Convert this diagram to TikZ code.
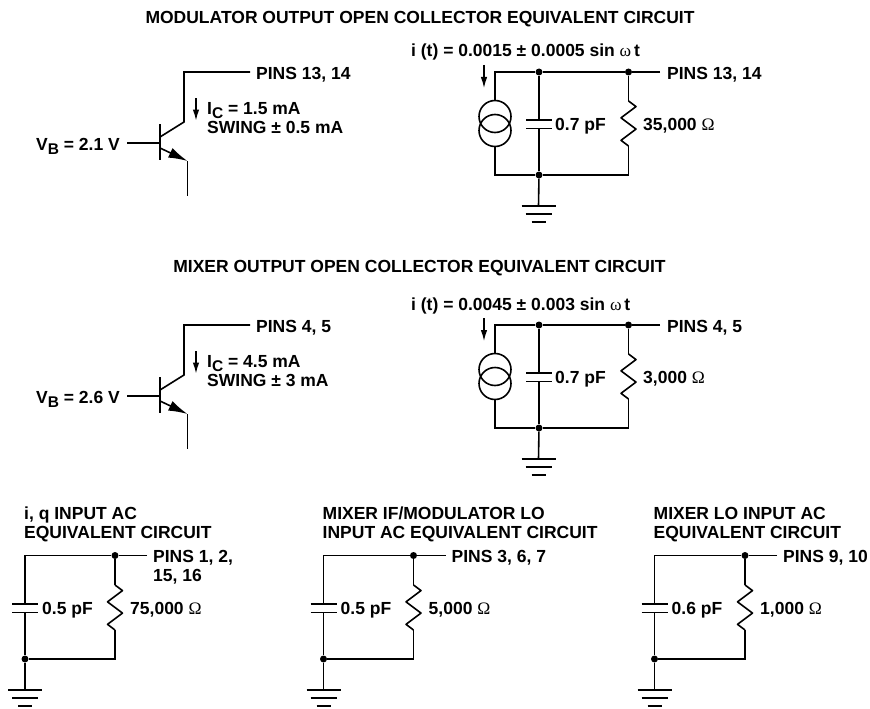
\documentclass[tikz,border=0pt]{standalone}
\usepackage{fontspec}
\setmainfont{Liberation Sans}
\newfontfamily\symfont{Liberation Serif}
\usetikzlibrary{arrows.meta}
\newcommand{\subl}[1]{\raisebox{-4.5pt}{\fontsize{15.5}{15.5}\selectfont #1}}
\newcommand{\ohm}{\ {\mdseries\symfont Ω}}
\newcommand{\omg}{{\mdseries\symfont ω}}
\tikzset{
  wire/.style={line width=1.6pt,line cap=butt,line join=miter},
  lbl/.style={anchor=base west,inner sep=0pt,font=\fontsize{17.5}{19}\bfseries\selectfont,align=left,text=black},
  blk/.style={lbl,anchor=north west},
  ttl/.style={lbl,anchor=base},
  dotn/.style={circle,fill=black,inner sep=0pt,minimum size=7pt},
  tiny arrow/.style={line width=1.2pt,-{Latex[length=11pt,width=6.5pt]}},
  emit arrow/.style={line width=1.6pt,-{Latex[length=19pt,width=10.5pt]}}
}
\newcommand{\resist}[3]{% prefix, x, ytop of zigzag
  \coordinate (#1rt) at (#2,#3);
  \coordinate (#1rb) at (#2,#3+45);
  \draw[wire,line join=round] (#1rt) -- ++(7.5,5.6) -- ++(-15,11.25) -- ++(15,11.25) -- ++(-15,11.25) -- (#1rb);
}
\newcommand{\capac}[3]{% prefix, x, y centre
  \coordinate (#1ct) at (#2,#3-4.3);
  \coordinate (#1cb) at (#2,#3+4.3);
  \draw[wire] ([xshift=-13pt]#1ct) -- ([xshift=13pt]#1ct);
  \draw[wire] ([xshift=-13pt]#1cb) -- ([xshift=13pt]#1cb);
}
\newcommand{\gnd}[3]{% prefix, x, y of first plate
  \coordinate (#1g) at (#2,#3);
  \draw[wire] (#2-17,#3) -- (#2+17,#3);
  \draw[wire] (#2-13,#3+8) -- (#2+13,#3+8);
  \draw[wire] (#2-7,#3+16) -- (#2+7,#3+16);
}
\newcommand{\transistor}[6]{% prefix, dy, pins, Ic, swing, Vb value
  \begin{scope}[yshift=-#2pt]
    \coordinate (#1c) at (184,72);
    \coordinate (#1out) at (250,72);
    \coordinate (#1k) at (184,122);
    \coordinate (#1bc) at (160,137);
    \coordinate (#1bt) at (160,124);
    \coordinate (#1bb) at (160,159.5);
    \coordinate (#1bl) at (127,143);
    \coordinate (#1bm) at (160,143);
    \coordinate (#1be) at (160,148);
    \coordinate (#1e) at (187.5,161);
    \coordinate (#1ee) at (187.5,195.5);
    \coordinate (#1as) at (196,98);
    \coordinate (#1ae) at (196,120.5);
    \draw[wire] (#1out) -- (#1c) -- (#1k) -- (#1bc);
    \draw[wire] (#1bt) -- (#1bb);
    \draw[wire] (#1bl) -- (#1bm);
    \draw[emit arrow] (#1be) -- (#1e);
    \draw[wire] (#1e) -- (#1ee);
    \draw[tiny arrow] (#1as) -- (#1ae);
    \node[lbl] (#1pins) at (256,79) {#3};
    \node[lbl] (#1ic) at (207,114) {I\subl{C} = #4};
    \node[lbl] (#1sw) at (207,133) {SWING ± #5};
    \node[lbl] (#1vb) at (36,150) {V\subl{B} = #6};
  \end{scope}
}
\newcommand{\outcirc}[5]{% prefix, dy, i(t), pins, R
  \begin{scope}[yshift=-#2pt]
    \coordinate (#1tl) at (495,72);
    \node[dotn] (#1d1) at (539,72) {};
    \node[dotn] (#1d2) at (628.5,72) {};
    \coordinate (#1out) at (660,72);
    \coordinate (#1bl) at (495,175);
    \node[dotn] (#1d3) at (539,175) {};
    \coordinate (#1br) at (628.5,175);
    \node[circle,draw,wire,minimum size=32pt,inner sep=0pt] (#1s1) at (495,116.5) {};
    \node[circle,draw,wire,minimum size=32pt,inner sep=0pt] (#1s2) at (495,130.5) {};
    \capac{#1}{539}{124}
    \resist{#1}{628.5}{101}
    \gnd{#1}{538.5}{206}
    \draw[wire] (#1out) -- (#1d2) -- (#1d1) -- (#1tl) -- (#1s1.north);
    \draw[wire] (#1s2.south) -- (#1bl) -- (#1d3) -- (#1br) -- (#1rb);
    \draw[wire] (#1d1) -- (#1ct);
    \draw[wire] (#1cb) -- (#1d3);
    \draw[wire] (#1d2) -- (#1rt);
    \draw[wire] (#1d3) -- (#1g);
    \coordinate (#1as) at (484,65);
    \coordinate (#1ae) at (484,88);
    \draw[tiny arrow] (#1as) -- (#1ae);
    \node[lbl] (#1it) at (411,57) {#3};
    \node[lbl] (#1pins) at (667,79) {#4};
    \node[lbl] (#1cv) at (555,130) {0.7 pF};
    \node[lbl] (#1rv) at (643,130) {#5};
  \end{scope}
}
\newcommand{\accirc}[7]{% prefix, xleft, xdot, title, pins, C, R
  \coordinate (#1tl) at (#2,555.5);
  \node[dotn] (#1d1) at (#3,555.5) {};
  \coordinate (#1out) at (#3+32,555.5);
  \node[dotn] (#1d2) at (#2,659) {};
  \coordinate (#1br) at (#3,659);
  \capac{#1}{#2}{608}
  \resist{#1}{#3}{585}
  \gnd{#1}{#2}{690}
  \draw[wire] (#1out) -- (#1d1) -- (#1tl) -- (#1ct);
  \draw[wire] (#1cb) -- (#1d2) -- (#1br) -- (#1rb);
  \draw[wire] (#1d1) -- (#1rt);
  \draw[wire] (#1d2) -- (#1g);
  \node[blk] (#1title) at (#2-1,507) {#4};
  \node[blk] (#1pins) at (#3+38,550.4) {#5};
  \node[lbl] (#1cv) at (#2+17,614) {#6};
  \node[lbl] (#1rv) at (#3+15,614) {#7};
}
\begin{document}
\begin{tikzpicture}[x=1pt,y=-1pt]
  \useasboundingbox[fill=white] (0,0) rectangle (870,709);
  \node[ttl] (t1) at (420,24) {MODULATOR OUTPUT OPEN COLLECTOR EQUIVALENT CIRCUIT};
  \node[ttl] (t2) at (419.5,272.5) {MIXER OUTPUT OPEN COLLECTOR EQUIVALENT CIRCUIT};
  \transistor{qa}{0}{PINS 13, 14}{1.5 mA}{0.5 mA}{2.1 V}
  \transistor{qb}{253}{PINS 4, 5}{4.5 mA}{3 mA}{2.6 V}
  \outcirc{ca}{0}{i (t) = 0.0015 ± 0.0005 sin \omg\,t}{PINS 13, 14}{35,000\ohm}
  \outcirc{cb}{253}{i (t) = 0.0045 ± 0.003 sin \omg\,t}{PINS 4, 5}{3,000\ohm}
  \accirc{aa}{25}{115}{i, q INPUT AC\\EQUIVALENT CIRCUIT}{PINS 1, 2,\\15, 16}{0.5 pF}{75,000\ohm}
  \accirc{ab}{323.5}{413.5}{MIXER IF/MODULATOR LO\\INPUT AC EQUIVALENT CIRCUIT}{PINS 3, 6, 7}{0.5 pF}{5,000\ohm}
  \accirc{ac}{654.5}{745}{MIXER LO INPUT AC\\EQUIVALENT CIRCUIT}{PINS 9, 10}{0.6 pF}{1,000\ohm}
\end{tikzpicture}
\end{document}
